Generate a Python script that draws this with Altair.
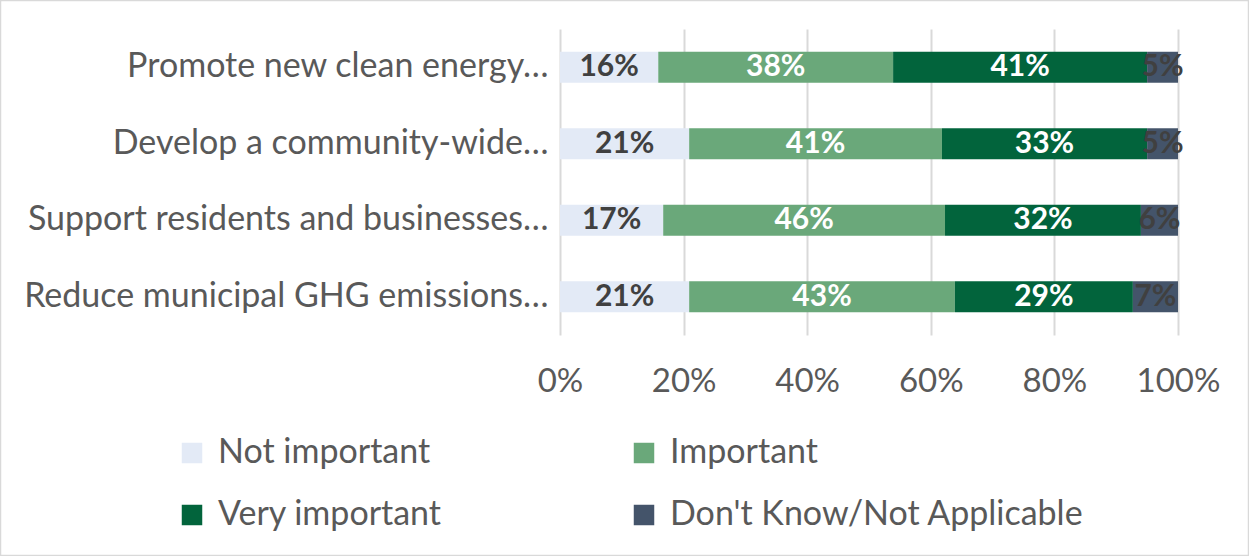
import altair as alt
import pandas as pd

categories = [
    "Promote new clean energy…",
    "Develop a community-wide…",
    "Support residents and businesses…",
    "Reduce municipal GHG emissions…",
]
series = ["Not important", "Important", "Very important", "Don't Know/Not Applicable"]
not_important = [15.9, 20.9, 16.7, 20.9]
important = [38.0, 40.9, 45.6, 43.0]
very_important = [41.1, 33.2, 31.7, 28.8]
dont_know = [5.0, 5.0, 6.0, 7.3]
labels = [
    ["16%", "38%", "41%", "5%"],
    ["21%", "41%", "33%", "5%"],
    ["17%", "46%", "32%", "6%"],
    ["21%", "43%", "29%", "7%"],
]
colors = ["#E3EAF6", "#6AA87A", "#02643C", "#44546A"]
text_colors = ["#404040", "#FFFFFF", "#FFFFFF", "#404040"]

rows = []
for i, cat in enumerate(categories):
    vals = [not_important[i], important[i], very_important[i], dont_know[i]]
    for j, s in enumerate(series):
        rows.append({"category": cat, "series": s, "value": vals[j], "order": j,
                     "label": labels[i][j], "tcolor": text_colors[j]})
df = pd.DataFrame(rows)

FONT = "Lato"

y_enc = alt.Y("category:N", sort=categories, title=None,
              scale=alt.Scale(paddingInner=0.595, paddingOuter=0.2975),
              axis=alt.Axis(labelFontSize=34, labelColor="#595959", labelFont=FONT,
                            labelLimit=600, labelPadding=12, ticks=False, domain=False))
x_enc = alt.X("sum(value):Q", title=None, stack="zero",
              scale=alt.Scale(domain=[0, 100], nice=False),
              axis=alt.Axis(values=[0, 20, 40, 60, 80, 100], labelExpr="datum.value + '%'",
                            labelFontSize=33, labelColor="#595959", labelFont=FONT,
                            labelFlush=False, labelOverlap=False,
                            labelPadding=30, ticks=False, domain=False,
                            grid=True, gridColor="#D9D9D9", gridWidth=2))

bars = alt.Chart(df).mark_bar().encode(
    y=y_enc,
    x=x_enc,
    color=alt.Color("series:N", sort=series,
                    scale=alt.Scale(domain=series, range=colors),
                    legend=alt.Legend(orient="none", legendX=-385, legendY=407, columns=2,
                                      direction="horizontal",
                                      title=None, symbolType="square", symbolSize=420,
                                      symbolStrokeWidth=0, labelFontSize=34, labelFont=FONT,
                                      labelColor="#595959", columnPadding=185, rowPadding=28,
                                      labelOffset=9, labelLimit=600)),
    order=alt.Order("order:Q"),
)

text = alt.Chart(df).mark_text(font=FONT, fontSize=30, fontWeight="bold").encode(
    y=alt.Y("category:N", sort=categories),
    x=alt.X("value:Q", stack="zero", bandPosition=0.5),
    detail="series:N",
    order=alt.Order("order:Q"),
    text="label:N",
    color=alt.Color("tcolor:N", scale=None),
)

frame = alt.Chart(alt.Data(values=[{}])).mark_rect(
    fill=None, stroke="#D9D9D9", strokeWidth=1.5
).encode(
    x=alt.value(-559.5), x2=alt.value(688.5),
    y=alt.value(-28.5), y2=alt.value(526.5),
)

chart = alt.layer(bars, text, frame).properties(
    width=618, height=306,
    padding={"left": 560, "top": 29, "right": 71, "bottom": 221},
    autosize=alt.AutoSizeParams(type="none"),
    background="white",
).configure_view(stroke=None)

chart.save("out.html", embed_options={"renderer": "svg", "actions": False})
